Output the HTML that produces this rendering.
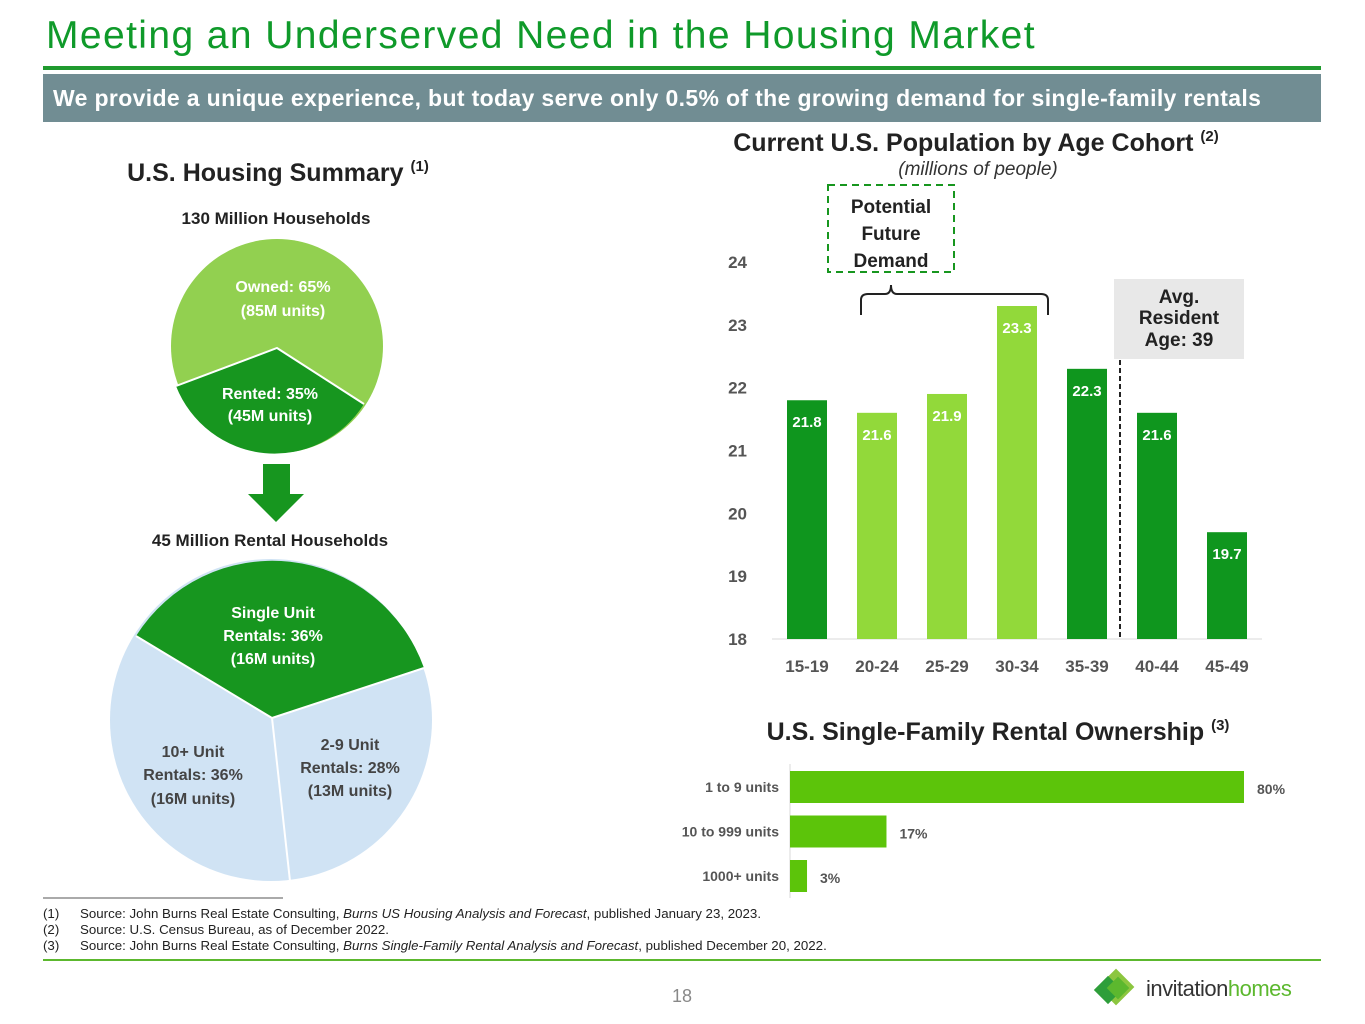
<!DOCTYPE html>
<html><head><meta charset="utf-8"><style>
body{margin:0;width:1365px;height:1024px;background:#fff;font-family:"Liberation Sans",sans-serif;position:relative;overflow:hidden}
.a{position:absolute}
</style></head><body>
<div class="a" style="left:46px;top:14px;font-size:39px;color:#0f9a2a;letter-spacing:1.4px">Meeting an Underserved Need in the Housing Market</div>
<div class="a" style="left:43px;top:66px;width:1278px;height:4px;background:#1f9a2e"></div>
<div class="a" style="left:43px;top:74px;width:1278px;height:48px;background:#718d93;color:#fff;font-weight:bold;font-size:23px;line-height:48px;padding-left:10px;box-sizing:border-box;letter-spacing:0.35px;white-space:nowrap">We provide a unique experience, but today serve only 0.5% of the growing demand for single-family rentals</div>

<svg class="a" style="left:0;top:0" width="1365" height="1024">
<g font-family="Liberation Sans, sans-serif" font-weight="bold">
<text x="278" y="181" text-anchor="middle" font-size="25" fill="#222">U.S. Housing Summary <tspan font-size="15" dy="-10">(1)</tspan></text>
<text x="276" y="224" text-anchor="middle" font-size="17" fill="#222">130 Million Households</text>
<ellipse cx="277" cy="346" rx="106" ry="107" fill="#92d050"/>
<path d="M176,386 L277,348 L364,404 A106,107 0 0 1 176,386 Z" fill="#17961f"/>
<path d="M176,386 L277,348 L364,404" fill="none" stroke="#fff" stroke-width="2"/>
<text x="283" y="292" text-anchor="middle" font-size="16" fill="#fff">Owned: 65%</text>
<text x="283" y="316" text-anchor="middle" font-size="16" fill="#fff">(85M units)</text>
<text x="270" y="399" text-anchor="middle" font-size="16" fill="#fff">Rented: 35%</text>
<text x="270" y="421" text-anchor="middle" font-size="16" fill="#fff">(45M units)</text>
<path d="M263,464 H290 V494 H304 L276,522 L248,494 H263 Z" fill="#17961f"/>
<text x="270" y="546" text-anchor="middle" font-size="17" fill="#222">45 Million Rental Households</text>
<ellipse cx="271" cy="720" rx="161" ry="161" fill="#d0e3f4"/>
<path d="M272,718 L136,636 A161,161 0 0 1 424,668 Z" fill="#17961f"/>
<path d="M136,636 L272,718 L424,668 M272,718 L290,881" fill="none" stroke="#fff" stroke-width="2"/>
<text x="273" y="618" text-anchor="middle" font-size="16" fill="#fff">Single Unit</text>
<text x="273" y="641" text-anchor="middle" font-size="16" fill="#fff">Rentals: 36%</text>
<text x="273" y="664" text-anchor="middle" font-size="16" fill="#fff">(16M units)</text>
<text x="193" y="757" text-anchor="middle" font-size="16" fill="#444">10+ Unit</text>
<text x="193" y="780" text-anchor="middle" font-size="16" fill="#444">Rentals: 36%</text>
<text x="193" y="804" text-anchor="middle" font-size="16" fill="#444">(16M units)</text>
<text x="350" y="750" text-anchor="middle" font-size="16" fill="#444">2-9 Unit</text>
<text x="350" y="773" text-anchor="middle" font-size="16" fill="#444">Rentals: 28%</text>
<text x="350" y="796" text-anchor="middle" font-size="16" fill="#444">(13M units)</text>

<text x="976" y="151" text-anchor="middle" font-size="25" fill="#222">Current U.S. Population by Age Cohort <tspan font-size="15" dy="-10">(2)</tspan></text>
<text x="978" y="175" text-anchor="middle" font-size="19" font-weight="normal" font-style="italic" fill="#333">(millions of people)</text>
<rect x="828" y="185" width="126" height="87" fill="none" stroke="#17961f" stroke-width="2" stroke-dasharray="7,5"/>
<text x="891" y="213" text-anchor="middle" font-size="19" fill="#222">Potential</text>
<text x="891" y="240" text-anchor="middle" font-size="19" fill="#222">Future</text>
<text x="891" y="267" text-anchor="middle" font-size="19" fill="#222">Demand</text>
<path d="M861,315 V300 Q861,294 868,294 H885 Q891,294 891,285 Q891,294 897,294 H1041 Q1048,294 1048,300 V315" fill="none" stroke="#222" stroke-width="2"/>
<rect x="1114" y="279" width="130" height="80" fill="#e8e8e8"/>
<text x="1179" y="303" text-anchor="middle" font-size="19" fill="#222">Avg.</text>
<text x="1179" y="324" text-anchor="middle" font-size="19" fill="#222">Resident</text>
<text x="1179" y="346" text-anchor="middle" font-size="19" fill="#222">Age: 39</text>
<line x1="1120" y1="360" x2="1120" y2="639" stroke="#222" stroke-width="2" stroke-dasharray="5,3"/>
<g id="popchart"></g>

<text x="998" y="740" text-anchor="middle" font-size="25" fill="#222">U.S. Single-Family Rental Ownership <tspan font-size="15" dy="-10">(3)</tspan></text>
<g id="ownchart"></g>

<line x1="43" y1="898" x2="283" y2="898" stroke="#555" stroke-width="1"/>
<g font-weight="normal" font-size="13.3" fill="#222">
<text x="43" y="918">(1)</text><text x="80" y="918">Source: John Burns Real Estate Consulting, <tspan font-style="italic">Burns US Housing Analysis and Forecast</tspan>, published January 23, 2023.</text>
<text x="43" y="934">(2)</text><text x="80" y="934">Source: U.S. Census Bureau, as of December 2022.</text>
<text x="43" y="950">(3)</text><text x="80" y="950">Source: John Burns Real Estate Consulting, <tspan font-style="italic">Burns Single-Family Rental Analysis and Forecast</tspan>, published December 20, 2022.</text>
</g>
<rect x="43" y="959" width="1278" height="2" fill="#5cb82e"/>
<text x="682" y="1002" text-anchor="middle" font-size="18" font-weight="normal" fill="#888">18</text>
<g>
<rect x="1103" y="974" width="26" height="26" fill="#8cc63f" transform="rotate(45 1116 987)"/>
<rect x="1098" y="980" width="20" height="20" fill="#2e9e3a" transform="rotate(45 1108 990)"/>
<rect x="1110" y="980" width="16" height="16" fill="#5cb82e" transform="rotate(45 1118 988)"/>
<text x="1146" y="996" font-size="22" font-weight="normal" fill="#333" letter-spacing="-0.5">invitation<tspan fill="#5cb82e">homes</tspan></text>
</g>
</g>
</svg>
<script>
const ageCats=["15-19","20-24","25-29","30-34","35-39","40-44","45-49"];
const popValues=[21.8,21.6,21.9,23.3,22.3,21.6,19.7];
const popTicks=[18,19,20,21,22,23,24];
const ownCats=["1 to 9 units","10 to 999 units","1000+ units"];
const ownValues=[80,17,3];
const NS="http://www.w3.org/2000/svg";
function mk(t,a,p){const e=document.createElementNS(NS,t);for(const k in a)e.setAttribute(k,a[k]);p.appendChild(e);return e;}
const pg=document.getElementById('popchart');
const y=v=>639-(v-18)*62.83;
const x=i=>807+i*70;
popTicks.forEach(t=>{const e=mk('text',{x:747,y:y(t)+6,'text-anchor':'end','font-size':17,fill:'#555'},pg);e.textContent=t;

});
mk('line',{x1:772,y1:639,x2:1262,y2:639,stroke:'#d9d9d9','stroke-width':1},pg);
popValues.forEach((v,i)=>{const light=(i>=1&&i<=3);
const r=mk('rect',{x:x(i)-20,y:y(v),width:40,height:639-y(v),fill:light?'#92d93a':'#0f961e'},pg);


const l=mk('text',{x:x(i),y:y(v)+27,'text-anchor':'middle','font-size':15,fill:'#fff'},pg);l.textContent=v.toFixed(1);


const c=mk('text',{x:x(i),y:672,'text-anchor':'middle','font-size':17,fill:'#555'},pg);c.textContent=ageCats[i];

});
const og=document.getElementById('ownchart');
const ox=v=>790+v*5.675;
mk('line',{x1:790,y1:764,x2:790,y2:898,stroke:'#d9d9d9'},og);
ownValues.forEach((v,i)=>{const cy=787+i*44.5;
const r=mk('rect',{x:790,y:cy-16,width:ox(v)-790,height:32,fill:'#5cc40a'},og);


const c=mk('text',{x:779,y:cy+5,'text-anchor':'end','font-size':14,fill:'#555'},og);c.textContent=ownCats[i];


const l=mk('text',{x:ox(v)+13,y:cy+7,'font-size':14,fill:'#555'},og);l.textContent=v+'%';

});
</script>
</body></html>
